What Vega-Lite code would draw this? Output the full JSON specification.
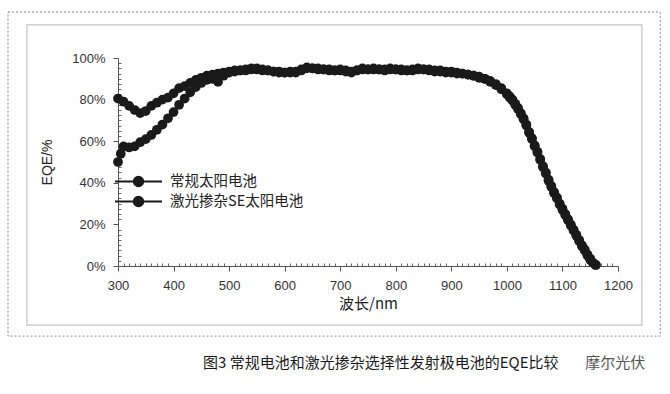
{
  "$schema": "https://vega.github.io/schema/vega-lite/v6.json",
  "width": 500,
  "height": 208,
  "autosize": {"type": "none"},
  "padding": {"left": 118, "top": 58, "right": 52, "bottom": 128},
  "background": "white",
  "config": {"view": {"stroke": null}, "font": "Liberation Sans"},
  "datasets": {
    "eqe": [
      {"w":300,"s":"常规太阳电池","e":80.5},{"w":310,"s":"常规太阳电池","e":79},{"w":320,"s":"常规太阳电池","e":77},{"w":330,"s":"常规太阳电池","e":75},{"w":340,"s":"常规太阳电池","e":73.5},{"w":350,"s":"常规太阳电池","e":74.5},{"w":360,"s":"常规太阳电池","e":77},{"w":370,"s":"常规太阳电池","e":78.5},{"w":380,"s":"常规太阳电池","e":80},{"w":390,"s":"常规太阳电池","e":81},{"w":400,"s":"常规太阳电池","e":83},{"w":410,"s":"常规太阳电池","e":85.5},{"w":420,"s":"常规太阳电池","e":86.5},{"w":430,"s":"常规太阳电池","e":88},{"w":440,"s":"常规太阳电池","e":89.5},{"w":450,"s":"常规太阳电池","e":90.5},{"w":460,"s":"常规太阳电池","e":91.5},{"w":470,"s":"常规太阳电池","e":92},{"w":480,"s":"常规太阳电池","e":92.5},{"w":490,"s":"常规太阳电池","e":93},{"w":500,"s":"常规太阳电池","e":93.5},{"w":510,"s":"常规太阳电池","e":94},{"w":520,"s":"常规太阳电池","e":94},{"w":530,"s":"常规太阳电池","e":94.5},{"w":540,"s":"常规太阳电池","e":95},{"w":550,"s":"常规太阳电池","e":94.5},{"w":560,"s":"常规太阳电池","e":94},{"w":570,"s":"常规太阳电池","e":94},{"w":580,"s":"常规太阳电池","e":93.5},{"w":590,"s":"常规太阳电池","e":93.5},{"w":600,"s":"常规太阳电池","e":93},{"w":610,"s":"常规太阳电池","e":93},{"w":620,"s":"常规太阳电池","e":93.5},{"w":630,"s":"常规太阳电池","e":94},{"w":640,"s":"常规太阳电池","e":95},{"w":650,"s":"常规太阳电池","e":95},{"w":660,"s":"常规太阳电池","e":94.5},{"w":670,"s":"常规太阳电池","e":94.5},{"w":680,"s":"常规太阳电池","e":94.5},{"w":690,"s":"常规太阳电池","e":94},{"w":700,"s":"常规太阳电池","e":94},{"w":710,"s":"常规太阳电池","e":93.5},{"w":720,"s":"常规太阳电池","e":93.5},{"w":730,"s":"常规太阳电池","e":94},{"w":740,"s":"常规太阳电池","e":94.5},{"w":750,"s":"常规太阳电池","e":94.5},{"w":760,"s":"常规太阳电池","e":94.5},{"w":770,"s":"常规太阳电池","e":94.5},{"w":780,"s":"常规太阳电池","e":94.5},{"w":790,"s":"常规太阳电池","e":94.5},{"w":800,"s":"常规太阳电池","e":94.5},{"w":810,"s":"常规太阳电池","e":94},{"w":820,"s":"常规太阳电池","e":94},{"w":830,"s":"常规太阳电池","e":94.5},{"w":840,"s":"常规太阳电池","e":94.5},{"w":850,"s":"常规太阳电池","e":94.5},{"w":860,"s":"常规太阳电池","e":94},{"w":870,"s":"常规太阳电池","e":94},{"w":880,"s":"常规太阳电池","e":93.5},{"w":890,"s":"常规太阳电池","e":93.5},{"w":900,"s":"常规太阳电池","e":93},{"w":910,"s":"常规太阳电池","e":93},{"w":920,"s":"常规太阳电池","e":92.5},{"w":930,"s":"常规太阳电池","e":92},{"w":940,"s":"常规太阳电池","e":91.5},{"w":950,"s":"常规太阳电池","e":91},{"w":960,"s":"常规太阳电池","e":90},{"w":970,"s":"常规太阳电池","e":89},{"w":980,"s":"常规太阳电池","e":87.5},{"w":990,"s":"常规太阳电池","e":85.5},{"w":1000,"s":"常规太阳电池","e":83},{"w":1005,"s":"常规太阳电池","e":81.5},{"w":1010,"s":"常规太阳电池","e":80},{"w":1015,"s":"常规太阳电池","e":78},{"w":1020,"s":"常规太阳电池","e":76},{"w":1025,"s":"常规太阳电池","e":73.5},{"w":1030,"s":"常规太阳电池","e":71},{"w":1035,"s":"常规太阳电池","e":68},{"w":1040,"s":"常规太阳电池","e":64.5},{"w":1045,"s":"常规太阳电池","e":61.5},{"w":1050,"s":"常规太阳电池","e":58},{"w":1055,"s":"常规太阳电池","e":55},{"w":1060,"s":"常规太阳电池","e":51.5},{"w":1065,"s":"常规太阳电池","e":48},{"w":1070,"s":"常规太阳电池","e":45},{"w":1075,"s":"常规太阳电池","e":41.5},{"w":1080,"s":"常规太阳电池","e":38.5},{"w":1085,"s":"常规太阳电池","e":35.5},{"w":1090,"s":"常规太阳电池","e":33},{"w":1095,"s":"常规太阳电池","e":30},{"w":1100,"s":"常规太阳电池","e":27.5},{"w":1105,"s":"常规太阳电池","e":25},{"w":1110,"s":"常规太阳电池","e":22.5},{"w":1115,"s":"常规太阳电池","e":20},{"w":1120,"s":"常规太阳电池","e":17.5},{"w":1125,"s":"常规太阳电池","e":15},{"w":1130,"s":"常规太阳电池","e":12.5},{"w":1135,"s":"常规太阳电池","e":10},{"w":1140,"s":"常规太阳电池","e":8},{"w":1145,"s":"常规太阳电池","e":5.5},{"w":1150,"s":"常规太阳电池","e":3.5},{"w":1155,"s":"常规太阳电池","e":1.5},{"w":1160,"s":"常规太阳电池","e":0.5},
      {"w":300,"s":"激光掺杂SE太阳电池","e":50},{"w":305,"s":"激光掺杂SE太阳电池","e":54},{"w":310,"s":"激光掺杂SE太阳电池","e":57.5},{"w":320,"s":"激光掺杂SE太阳电池","e":57},{"w":330,"s":"激光掺杂SE太阳电池","e":57.5},{"w":340,"s":"激光掺杂SE太阳电池","e":59.5},{"w":350,"s":"激光掺杂SE太阳电池","e":61},{"w":360,"s":"激光掺杂SE太阳电池","e":63},{"w":370,"s":"激光掺杂SE太阳电池","e":65.5},{"w":380,"s":"激光掺杂SE太阳电池","e":68},{"w":390,"s":"激光掺杂SE太阳电池","e":71},{"w":400,"s":"激光掺杂SE太阳电池","e":74},{"w":410,"s":"激光掺杂SE太阳电池","e":77.5},{"w":420,"s":"激光掺杂SE太阳电池","e":80.5},{"w":430,"s":"激光掺杂SE太阳电池","e":83.5},{"w":440,"s":"激光掺杂SE太阳电池","e":86},{"w":450,"s":"激光掺杂SE太阳电池","e":88},{"w":460,"s":"激光掺杂SE太阳电池","e":89.5},{"w":470,"s":"激光掺杂SE太阳电池","e":90},{"w":480,"s":"激光掺杂SE太阳电池","e":88.5},{"w":490,"s":"激光掺杂SE太阳电池","e":91.5},{"w":500,"s":"激光掺杂SE太阳电池","e":93},{"w":510,"s":"激光掺杂SE太阳电池","e":93.5},{"w":520,"s":"激光掺杂SE太阳电池","e":94},{"w":530,"s":"激光掺杂SE太阳电池","e":94},{"w":540,"s":"激光掺杂SE太阳电池","e":94.5},{"w":550,"s":"激光掺杂SE太阳电池","e":95},{"w":560,"s":"激光掺杂SE太阳电池","e":94.5},{"w":570,"s":"激光掺杂SE太阳电池","e":94},{"w":580,"s":"激光掺杂SE太阳电池","e":93.5},{"w":590,"s":"激光掺杂SE太阳电池","e":93},{"w":600,"s":"激光掺杂SE太阳电池","e":93},{"w":610,"s":"激光掺杂SE太阳电池","e":93.5},{"w":620,"s":"激光掺杂SE太阳电池","e":93},{"w":630,"s":"激光掺杂SE太阳电池","e":94.5},{"w":640,"s":"激光掺杂SE太阳电池","e":95.5},{"w":650,"s":"激光掺杂SE太阳电池","e":95},{"w":660,"s":"激光掺杂SE太阳电池","e":95},{"w":670,"s":"激光掺杂SE太阳电池","e":94.5},{"w":680,"s":"激光掺杂SE太阳电池","e":94},{"w":690,"s":"激光掺杂SE太阳电池","e":94},{"w":700,"s":"激光掺杂SE太阳电池","e":94.5},{"w":710,"s":"激光掺杂SE太阳电池","e":94},{"w":720,"s":"激光掺杂SE太阳电池","e":93},{"w":730,"s":"激光掺杂SE太阳电池","e":94},{"w":740,"s":"激光掺杂SE太阳电池","e":95},{"w":750,"s":"激光掺杂SE太阳电池","e":94.5},{"w":760,"s":"激光掺杂SE太阳电池","e":95},{"w":770,"s":"激光掺杂SE太阳电池","e":94.5},{"w":780,"s":"激光掺杂SE太阳电池","e":94},{"w":790,"s":"激光掺杂SE太阳电池","e":95},{"w":800,"s":"激光掺杂SE太阳电池","e":94.5},{"w":810,"s":"激光掺杂SE太阳电池","e":94.5},{"w":820,"s":"激光掺杂SE太阳电池","e":94},{"w":830,"s":"激光掺杂SE太阳电池","e":94},{"w":840,"s":"激光掺杂SE太阳电池","e":95},{"w":850,"s":"激光掺杂SE太阳电池","e":94.5},{"w":860,"s":"激光掺杂SE太阳电池","e":94.5},{"w":870,"s":"激光掺杂SE太阳电池","e":93.5},{"w":880,"s":"激光掺杂SE太阳电池","e":94},{"w":890,"s":"激光掺杂SE太阳电池","e":93},{"w":900,"s":"激光掺杂SE太阳电池","e":93.5},{"w":910,"s":"激光掺杂SE太阳电池","e":92.5},{"w":920,"s":"激光掺杂SE太阳电池","e":92.5},{"w":930,"s":"激光掺杂SE太阳电池","e":92},{"w":940,"s":"激光掺杂SE太阳电池","e":91.5},{"w":950,"s":"激光掺杂SE太阳电池","e":90.5},{"w":960,"s":"激光掺杂SE太阳电池","e":90},{"w":970,"s":"激光掺杂SE太阳电池","e":88.5},{"w":980,"s":"激光掺杂SE太阳电池","e":87},{"w":990,"s":"激光掺杂SE太阳电池","e":85},{"w":1000,"s":"激光掺杂SE太阳电池","e":82.5},{"w":1005,"s":"激光掺杂SE太阳电池","e":81},{"w":1010,"s":"激光掺杂SE太阳电池","e":79.5},{"w":1015,"s":"激光掺杂SE太阳电池","e":77.5},{"w":1020,"s":"激光掺杂SE太阳电池","e":75.5},{"w":1025,"s":"激光掺杂SE太阳电池","e":73},{"w":1030,"s":"激光掺杂SE太阳电池","e":70.5},{"w":1035,"s":"激光掺杂SE太阳电池","e":67.5},{"w":1040,"s":"激光掺杂SE太阳电池","e":64},{"w":1045,"s":"激光掺杂SE太阳电池","e":61},{"w":1050,"s":"激光掺杂SE太阳电池","e":57.5},{"w":1055,"s":"激光掺杂SE太阳电池","e":54.5},{"w":1060,"s":"激光掺杂SE太阳电池","e":51},{"w":1065,"s":"激光掺杂SE太阳电池","e":47.5},{"w":1070,"s":"激光掺杂SE太阳电池","e":44.5},{"w":1075,"s":"激光掺杂SE太阳电池","e":41},{"w":1080,"s":"激光掺杂SE太阳电池","e":38},{"w":1085,"s":"激光掺杂SE太阳电池","e":35},{"w":1090,"s":"激光掺杂SE太阳电池","e":32.5},{"w":1095,"s":"激光掺杂SE太阳电池","e":29.5},{"w":1100,"s":"激光掺杂SE太阳电池","e":27},{"w":1105,"s":"激光掺杂SE太阳电池","e":24.5},{"w":1110,"s":"激光掺杂SE太阳电池","e":22},{"w":1115,"s":"激光掺杂SE太阳电池","e":19.5},{"w":1120,"s":"激光掺杂SE太阳电池","e":17},{"w":1125,"s":"激光掺杂SE太阳电池","e":14.5},{"w":1130,"s":"激光掺杂SE太阳电池","e":12},{"w":1135,"s":"激光掺杂SE太阳电池","e":9.5},{"w":1140,"s":"激光掺杂SE太阳电池","e":7.5},{"w":1145,"s":"激光掺杂SE太阳电池","e":5},{"w":1150,"s":"激光掺杂SE太阳电池","e":3},{"w":1155,"s":"激光掺杂SE太阳电池","e":1.5},{"w":1160,"s":"激光掺杂SE太阳电池","e":0.5}
    ],
    "frames": [
      {"x1":136,"x2":1243,"y1":115.9,"y2":-28.4,"kind":"inner"},
      {"x1":102,"x2":1276,"y1":122.1,"y2":-33.7,"kind":"outer"}
    ],
    "notes": [
      {"x":453,"y":-46.6,"t":"图3 常规电池和激光掺杂选择性发射极电池的EQE比较","kind":"caption"},
      {"x":1141,"y":-46.6,"t":"摩尔光伏","kind":"mark"}
    ]
  },
  "resolve": {"axis": {"x": "independent", "y": "independent"}},
  "layer": [
    {
      "data": {"name": "frames"},
      "transform": [{"filter": "datum.kind == 'inner'"}],
      "mark": {"type": "rect", "fill": null, "stroke": "#c4c4c4", "strokeWidth": 1.2},
      "encoding": {
        "x": {"field": "x1", "type": "quantitative", "scale": {"domain": [300, 1200], "nice": false, "zero": false}, "axis": null},
        "x2": {"field": "x2"},
        "y": {"field": "y1", "type": "quantitative", "scale": {"domain": [0, 100], "nice": false}, "axis": null},
        "y2": {"field": "y2"}
      }
    },
    {
      "data": {"name": "frames"},
      "transform": [{"filter": "datum.kind == 'outer'"}],
      "mark": {"type": "rect", "fill": null, "stroke": "#8a8a8a", "strokeWidth": 1, "strokeDash": [2, 2]},
      "encoding": {
        "x": {"field": "x1", "type": "quantitative", "axis": null},
        "x2": {"field": "x2"},
        "y": {"field": "y1", "type": "quantitative", "axis": null},
        "y2": {"field": "y2"}
      }
    },
    {
      "data": {"name": "notes"},
      "transform": [{"filter": "datum.kind == 'caption'"}],
      "mark": {"type": "text", "align": "left", "baseline": "middle", "font": "Noto Sans CJK SC", "fontSize": 15, "color": "#1a1a1a"},
      "encoding": {
        "x": {"field": "x", "type": "quantitative", "axis": null},
        "y": {"field": "y", "type": "quantitative", "axis": null},
        "text": {"field": "t"}
      }
    },
    {
      "data": {"name": "notes"},
      "transform": [{"filter": "datum.kind == 'mark'"}],
      "mark": {"type": "text", "align": "left", "baseline": "middle", "font": "Noto Sans CJK SC", "fontSize": 15, "color": "#555555"},
      "encoding": {
        "x": {"field": "x", "type": "quantitative", "axis": null},
        "y": {"field": "y", "type": "quantitative", "axis": null},
        "text": {"field": "t"}
      }
    },
    {
      "data": {"name": "eqe"},
      "mark": {"type": "tick", "opacity": 0},
      "encoding": {
        "x": {"field": "w", "type": "quantitative", "axis": {"orient": "bottom", "values": [310,320,330,340,350,360,370,380,390,410,420,430,440,450,460,470,480,490,510,520,530,540,550,560,570,580,590,610,620,630,640,650,660,670,680,690,710,720,730,740,750,760,770,780,790,810,820,830,840,850,860,870,880,890,910,920,930,940,950,960,970,980,990,1010,1020,1030,1040,1050,1060,1070,1080,1090,1110,1120,1130,1140,1150,1160,1170,1180,1190], "labels": false, "domain": false, "title": null, "grid": false, "tickSize": -3, "tickColor": "#666"}},
        "y": {"field": "e", "type": "quantitative", "axis": {"orient": "left", "values": [2.5,5,7.5,10,12.5,15,17.5,22.5,25,27.5,30,32.5,35,37.5,42.5,45,47.5,50,52.5,55,57.5,62.5,65,67.5,70,72.5,75,77.5,82.5,85,87.5,90,92.5,95,97.5], "labels": false, "domain": false, "title": null, "grid": false, "tickSize": -3, "tickColor": "#666"}}
      }
    },
    {
      "data": {"name": "eqe"},
      "mark": {"type": "line", "strokeWidth": 3, "point": {"filled": true, "size": 95, "opacity": 1}},
      "encoding": {
        "x": {
          "field": "w", "type": "quantitative",
          "axis": {
            "orient": "bottom", "format": "d",
            "title": "波长/nm", "values": [300,400,500,600,700,800,900,1000,1100,1200],
            "grid": false, "domainColor": "#555", "tickColor": "#555", "tickSize": 5,
            "labelFont": "Liberation Sans", "labelFontSize": 13, "labelColor": "#333", "labelPadding": 8, "labelFlush": false,
            "titleFont": "Noto Sans CJK SC", "titleFontSize": 15, "titleFontWeight": "normal", "titleColor": "#222", "titlePadding": 4
          }
        },
        "y": {
          "field": "e", "type": "quantitative",
          "axis": {
            "orient": "left",
            "title": "EQE/%", "values": [0,20,40,60,80,100], "labelExpr": "datum.value + '%'",
            "grid": false, "domainColor": "#555", "tickColor": "#555", "tickSize": 5,
            "labelFont": "Liberation Sans", "labelFontSize": 13, "labelColor": "#333", "labelPadding": 8, "labelFlush": false,
            "titleFont": "Liberation Sans", "titleFontSize": 14, "titleFontWeight": "normal", "titleColor": "#222", "titlePadding": 17
          }
        },
        "color": {
          "field": "s", "type": "nominal",
          "scale": {"domain": ["常规太阳电池", "激光掺杂SE太阳电池"], "range": ["#1a1a1a", "#1a1a1a"]},
          "legend": {
            "title": null, "orient": "none", "legendX": 10, "legendY": 113, "padding": 0,
            "symbolType": "M-2.5,0H2.5M-0.5,0A0.5,0.5 0 1 1 0.5,0A0.5,0.5 0 1 1 -0.5,0Z",
            "symbolSize": 353, "symbolStrokeWidth": 2, "labelOffset": 21, "rowPadding": -2,
            "labelFont": "Noto Sans CJK SC", "labelFontSize": 14.5, "labelColor": "#222",
            "encode": {"symbols": {"update": {"fill": {"value": "#1a1a1a"}, "stroke": {"value": "#1a1a1a"}, "strokeWidth": {"value": 2}, "opacity": {"value": 1}}}}
          }
        }
      }
    }
  ]
}
